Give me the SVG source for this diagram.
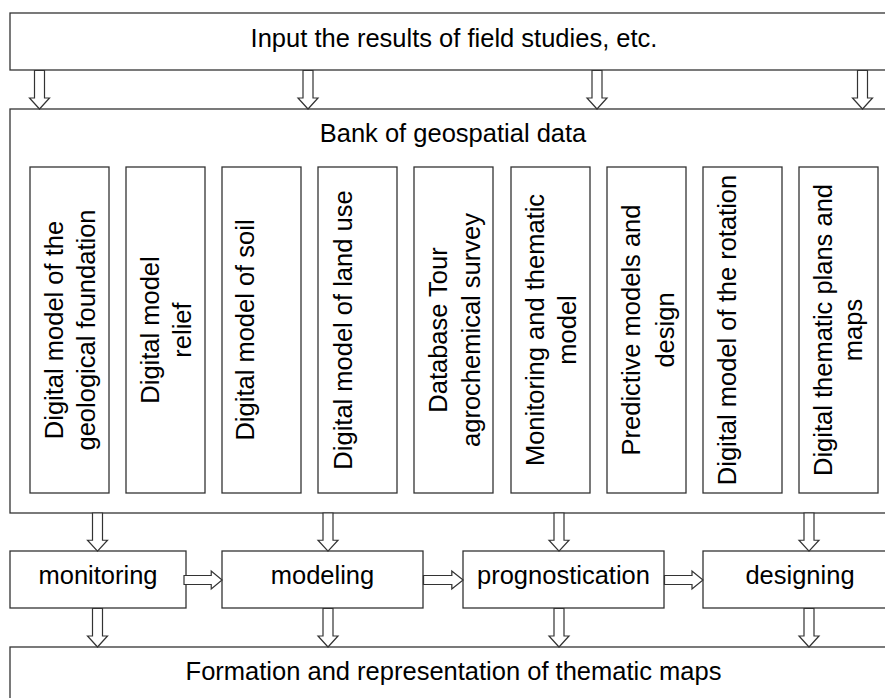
<svg xmlns="http://www.w3.org/2000/svg" xmlns:xlink="http://www.w3.org/1999/xlink" width="885" height="698" viewBox="0 0 885 698">
<style>
.box{fill:#fff;stroke:#333;stroke-width:1.3}
.arr{fill:#fff;stroke:#333;stroke-width:1.2;stroke-linejoin:miter}
text{font-family:"Liberation Sans",Arial,sans-serif;font-size:25.5px;fill:#000}
.c{text-anchor:middle}
</style>
<defs>
<path id="arrow" d="M-5,0 H5 V27.5 H10 L0,38.5 L-10,27.5 H-5 Z"/>
</defs>
<rect width="885" height="698" fill="#fff"/>
<g id="input">
<rect class="box" x="10" y="13" width="888" height="57"/>
<text class="c" x="454" y="47">Input the results of field studies, etc.</text>
</g>
<g id="bank">
<rect class="box" x="10" y="109" width="888" height="404"/>
<text class="c" x="453" y="142">Bank of geospatial data</text>
</g>
<g id="m1">
<rect class="box" x="30" y="167" width="79" height="326"/>
<text class="c" transform="translate(63,330) rotate(-90)">Digital model of the</text>
<text class="c" transform="translate(95,330) rotate(-90)">geological foundation</text>
</g>
<g id="m2">
<rect class="box" x="126" y="167" width="79" height="326"/>
<text class="c" transform="translate(158.5,330) rotate(-90)">Digital model</text>
<text class="c" transform="translate(190.5,330) rotate(-90)">relief</text>
</g>
<g id="m3">
<rect class="box" x="222" y="167" width="79" height="326"/>
<text class="c" transform="translate(254,330) rotate(-90)">Digital model of soil</text>
</g>
<g id="m4">
<rect class="box" x="318" y="167" width="79" height="326"/>
<text class="c" transform="translate(351.5,330) rotate(-90)">Digital model of land use</text>
</g>
<g id="m5">
<rect class="box" x="414" y="167" width="79" height="326"/>
<text class="c" transform="translate(447,330) rotate(-90)">Database Tour</text>
<text class="c" transform="translate(480,330) rotate(-90)">agrochemical survey</text>
</g>
<g id="m6">
<rect class="box" x="511" y="167" width="79" height="326"/>
<text class="c" transform="translate(543.5,330) rotate(-90)">Monitoring and thematic</text>
<text class="c" transform="translate(576,330) rotate(-90)">model</text>
</g>
<g id="m7">
<rect class="box" x="607" y="167" width="79" height="326"/>
<text class="c" transform="translate(640,330) rotate(-90)">Predictive models and</text>
<text class="c" transform="translate(673.5,330) rotate(-90)">design</text>
</g>
<g id="m8">
<rect class="box" x="703" y="167" width="79" height="326"/>
<text class="c" transform="translate(735.5,330) rotate(-90)">Digital model of the rotation</text>
</g>
<g id="m9">
<rect class="box" x="799" y="167" width="79" height="326"/>
<text class="c" transform="translate(832,330) rotate(-90)">Digital thematic plans and</text>
<text class="c" transform="translate(862,330) rotate(-90)">maps</text>
</g>
<g id="monitoring">
<rect class="box" x="10" y="551" width="176" height="57"/>
<text class="c" x="98" y="584">monitoring</text>
</g>
<g id="modeling">
<rect class="box" x="222" y="551" width="201" height="57"/>
<text class="c" x="322.5" y="584">modeling</text>
</g>
<g id="prognostication">
<rect class="box" x="463" y="551" width="201" height="57"/>
<text class="c" x="563.5" y="584">prognostication</text>
</g>
<g id="designing">
<rect class="box" x="703" y="551" width="195" height="57"/>
<text class="c" x="800" y="584">designing</text>
</g>
<g id="formation">
<rect class="box" x="10" y="647" width="888" height="80"/>
<text class="c" x="453.5" y="680">Formation and representation of thematic maps</text>
</g>
<g id="connectors">
<use xlink:href="#arrow" class="arr" transform="translate(39.5,70.5)"/>
<use xlink:href="#arrow" class="arr" transform="translate(308,70.5)"/>
<use xlink:href="#arrow" class="arr" transform="translate(597,70.5)"/>
<use xlink:href="#arrow" class="arr" transform="translate(862.5,70.5)"/>
<use xlink:href="#arrow" class="arr" transform="translate(97.5,513) scale(1,0.99)"/>
<use xlink:href="#arrow" class="arr" transform="translate(328,513) scale(1,0.99)"/>
<use xlink:href="#arrow" class="arr" transform="translate(559,513) scale(1,0.99)"/>
<use xlink:href="#arrow" class="arr" transform="translate(809,513) scale(1,0.99)"/>
<use xlink:href="#arrow" class="arr" transform="translate(97.5,608.5)"/>
<use xlink:href="#arrow" class="arr" transform="translate(328,608.5)"/>
<use xlink:href="#arrow" class="arr" transform="translate(559,608.5)"/>
<use xlink:href="#arrow" class="arr" transform="translate(809,608.5)"/>
<use xlink:href="#arrow" class="arr" transform="translate(184,580) rotate(-90) scale(0.9,0.99)"/>
<use xlink:href="#arrow" class="arr" transform="translate(423.5,580) rotate(-90) scale(0.9,1.03)"/>
<use xlink:href="#arrow" class="arr" transform="translate(664.5,580) rotate(-90) scale(0.9,1.0)"/>
</g>
</svg>
